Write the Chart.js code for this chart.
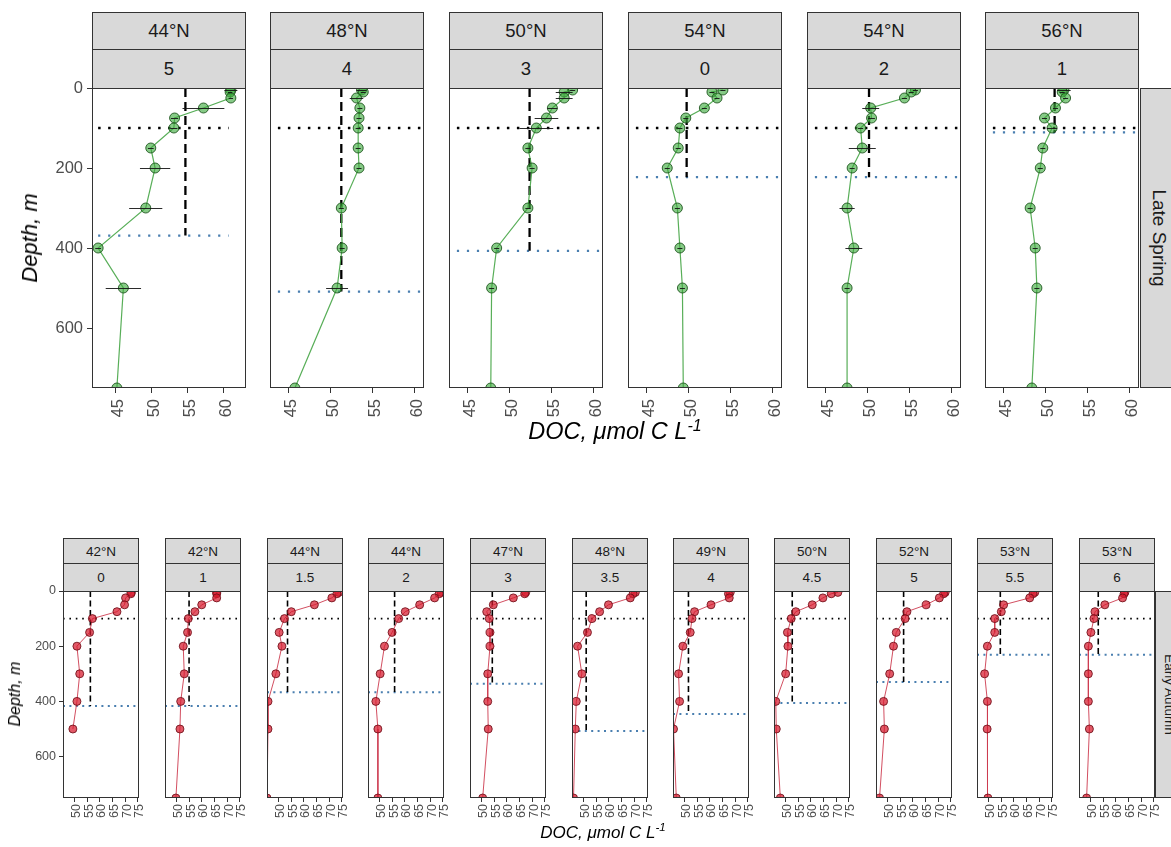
<!DOCTYPE html>
<html><head><meta charset="utf-8">
<script src="https://cdn.jsdelivr.net/npm/chart.js@4.4.1/dist/chart.umd.min.js"></script>
<style>
html,body{margin:0;padding:0;background:#fff;overflow:hidden;}
#wrap{position:relative;width:1171px;height:847px;overflow:hidden;font-family:"Liberation Sans",Arial,sans-serif;}
.panel{position:absolute;}
.panel canvas{display:block;}
.strip{position:absolute;box-sizing:border-box;background:#d9d9d9;border:1px solid #333;color:#1a1a1a;display:flex;align-items:center;justify-content:center;white-space:nowrap;}
.rot{position:absolute;white-space:nowrap;font-style:italic;color:#000;}
.vstrip span{transform:rotate(90deg);display:block;}
</style></head>
<body><div id="wrap"></div>
<script>
// ---------------- DATA ----------------
const DEPTHS = [5,10,25,50,75,100,150,200,300,400,500,750];
const EUPHOTIC_DEPTH = 100;

// Late Spring (top row)
const springLat = ['44°N','48°N','50°N','54°N','54°N','56°N'];
const springStation = ['5','4','3','0','2','1'];
const springDOC = [
  [61.0,60.9,61.0,57.2,53.2,53.1,49.9,50.5,49.2,42.6,46.1,45.2],
  [53.7,53.9,53.1,53.5,53.4,53.3,53.3,53.4,51.3,51.4,50.8,45.8],
  [57.5,56.5,56.5,55.1,54.4,53.2,52.2,52.7,52.2,48.5,47.9,47.8],
  [54.1,52.8,53.4,51.9,49.7,49.0,48.8,47.5,48.7,49.0,49.3,49.4],
  [55.7,55.2,54.4,50.4,50.5,49.2,49.4,48.2,47.6,48.4,47.6,47.6],
  [52.2,52.0,52.4,51.2,49.9,50.8,49.7,49.4,48.2,48.8,49.0,48.4]
];
const springSD = [
  [0.9,0.3,0.3,2.9,0.5,0.5,0.4,2.1,2.3,0.4,2.45,0.3],
  [0.6,0.3,0.8,0.3,0.3,0.3,0.3,0.3,0.3,0.3,1.3,0.3],
  [0.3,1.0,1.0,0.6,1.4,2.0,0.3,0.3,0.3,0.3,0.3,1.3],
  [0.3,0.3,0.3,0.3,0.3,0.3,0.3,0.3,0.3,0.3,0.3,0.3],
  [0.3,0.3,0.3,1.0,0.4,0.3,1.6,0.3,0.9,1.0,0.3,0.3],
  [0.8,0.3,0.3,0.3,0.3,0.6,0.3,0.3,0.3,0.3,0.3,0.3]
];
const springMeanML = [54.7,51.3,52.4,49.8,50.2,51.1];
const springMLD = [369,509,407,223,223,111];
const springXRange = [[41.75,63.1],[42.85,61.1],[42.85,61.1],[42.85,61.1],[42.85,61.1],[42.85,61.1]];
const springXTicks = [45,50,55,60];
const springSegX = [42.6,60.7];

// Early Autumn (bottom row)
const autumnLat = ['42°N','42°N','44°N','44°N','47°N','48°N','49°N','50°N','52°N','53°N','53°N'];
const autumnStation = ['0','1','1.5','2','3','3.5','4','4.5','5','5.5','6'];
const autumnDOC = [
  [72.4,72.2,70.1,69.7,66.7,57.0,55.9,50.9,52.0,50.9,49.3,null],
  [65.8,65.8,65.8,59.9,57.2,54.6,54.3,52.6,53.0,51.6,51.3,49.7],
  [73.7,73.0,71.0,64.1,55.0,52.3,50.2,51.3,48.9,45.8,45.8,45.4],
  [74.3,73.5,71.7,65.8,60.1,57.5,54.9,51.9,50.2,48.5,49.3,49.3],
  [67.4,67.0,62.5,54.6,52.0,53.0,53.3,53.3,52.4,52.4,52.6,50.4],
  [70.4,69.5,68.4,59.8,56.3,53.3,51.5,47.6,49.3,47.1,46.7,46.0],
  [68.0,67.3,67.6,60.4,53.9,52.9,52.2,49.3,47.6,48.0,45.6,46.7],
  [70.6,68.0,64.7,60.5,54.0,52.2,50.7,50.9,50.0,46.1,46.3,47.9],
  [72.7,72.1,70.4,65.2,57.6,56.9,53.4,52.3,50.8,48.4,48.7,46.8],
  [68.2,67.5,66.2,55.9,55.0,52.4,52.4,49.5,48.4,49.5,49.4,49.7],
  [63.5,63.2,62.6,55.6,51.7,51.3,50.1,49.1,49.1,49.1,49.5,48.4]
];
const autumnMeanML = [56.2,54.9,53.5,55.9,54.2,51.0,51.5,52.6,56.3,54.6,53.0];
const autumnMLD = [417,417,367,367,336,507,446,406,330,231,231];
const autumnXRange = [45.4,75.4];
const autumnXTicks = [50,55,60,65,70,75];

const depthTicks = [0,200,400,600];
const depthRange = [0,750];

// ---------------- RENDER ----------------
const wrap = document.getElementById('wrap');
const FONT = '"Liberation Sans", Arial, sans-serif';

const decor = {
  id:'decor',
  afterDatasetsDraw(chart, args, o){
    if(!o || !o.err) return;
    const {ctx, chartArea:a, scales:{x,y}} = chart;
    ctx.save(); ctx.beginPath(); ctx.rect(a.left,a.top,a.width,a.height); ctx.clip();
    ctx.strokeStyle='rgba(20,20,20,0.9)'; ctx.lineWidth=1;
    o.vals.forEach((v,i)=>{
      if(v==null||!o.err[i]) return;
      const py=Math.round(y.getPixelForValue(o.depths[i]))+0.5;
      ctx.beginPath();
      ctx.moveTo(x.getPixelForValue(v-o.err[i]),py);
      ctx.lineTo(x.getPixelForValue(v+o.err[i]),py);
      ctx.stroke();
    });
    ctx.restore();
  },
  afterDraw(chart){
    const {ctx, chartArea:a} = chart;
    ctx.save(); ctx.strokeStyle='#333'; ctx.lineWidth=1;
    ctx.strokeRect(Math.round(a.left)+0.5, Math.round(a.top)+0.5, Math.round(a.width)-1, Math.round(a.height)-1);
    ctx.restore();
  }
};

function addDiv(cls, css, html){
  const d=document.createElement('div'); d.className=cls; Object.assign(d.style, css);
  if(html!==undefined) d.innerHTML=html; wrap.appendChild(d); return d;
}

function makePanel(o){
  const PL=10, PR=14, PT=14;
  const lp = o.showY ? o.yAxisW : 0;
  const d = addDiv('panel',{left:(o.left-lp-PL)+'px', top:(o.top-PT)+'px',
    width:(PL+lp+o.w+PR)+'px', height:(PT+o.h+o.xAxisH)+'px'});
  const cv=document.createElement('canvas'); d.appendChild(cv);
  const pts=[];
  o.vals.forEach((v,i)=>{ if(v!=null) pts.push({x:v,y:DEPTHS[i]}); });
  const s=o.st;
  const datasets=[
    {data:[{x:o.segX[0],y:EUPHOTIC_DEPTH},{x:o.segX[1],y:EUPHOTIC_DEPTH}], showLine:true, pointRadius:0,
     borderColor:'#000', borderWidth:s.dotW, borderDash:[s.dotW, s.dotW*3], order:5},
    {data:[{x:o.segX[0],y:o.mld},{x:o.segX[1],y:o.mld}], showLine:true, pointRadius:0,
     borderColor:'#4a7fb0', borderWidth:s.blueW, borderDash:s.blueDash, order:5},
    {data:[{x:o.mean,y:0},{x:o.mean,y:o.mld}], showLine:true, pointRadius:0,
     borderColor:'#000', borderWidth:s.dashW, borderDash:s.dash, order:4},
    {data:pts, showLine:true, borderColor:s.line, borderWidth:s.lineW,
     pointRadius:s.r, pointBackgroundColor:s.fill, pointBorderColor:s.edge, pointBorderWidth:1, order:1}
  ];
  new Chart(cv,{
    type:'scatter',
    data:{datasets},
    options:{
      responsive:true, maintainAspectRatio:false, animation:false,
      events:[],
      layout:{padding:{left:PL,right:PR,top:PT,bottom:0}},
      plugins:{legend:{display:false},tooltip:{enabled:false},
        decor: o.err ? {err:o.err, vals:o.vals, depths:DEPTHS} : {}},
      scales:{
        x:{type:'linear', min:o.xr[0], max:o.xr[1],
          afterFit:(sc)=>{sc.height=o.xAxisH; sc.paddingLeft=0; sc.paddingRight=0;},
          afterBuildTicks:(sc)=>{sc.ticks=o.xt.map(v=>({value:v}));},
          border:{display:false},
          grid:{display:true, drawOnChartArea:false, drawTicks:true, tickLength:s.tick, color:'#333', lineWidth:1},
          ticks:{autoSkip:false, minRotation:90, maxRotation:90, padding:s.xpad, labelOffset:s.lo,
            color:'#4d4d4d', font:{family:FONT, size:s.tickFont}}
        },
        y:{type:'linear', reverse:true, min:depthRange[0], max:depthRange[1],
          afterFit:(sc)=>{sc.width=lp; sc.paddingTop=0; sc.paddingBottom=0;},
          afterBuildTicks:(sc)=>{sc.ticks=depthTicks.map(v=>({value:v}));},
          border:{display:false},
          grid:{display:o.showY, drawOnChartArea:false, drawTicks:true, tickLength:s.tick, color:'#333', lineWidth:1},
          ticks:{display:o.showY, padding:s.ypad, color:'#4d4d4d', font:{family:FONT, size:s.tickFont}}
        }
      }
    },
    plugins:[decor]
  });
}

// ---- top row ----
const TOPST = {dotW:2.5, blueW:2.2, blueDash:[2.2,7.8], dashW:2.3, dash:[9,5], line:'rgba(70,165,70,0.9)', lineW:1.2, r:5,
  fill:'rgba(60,170,60,0.62)', edge:'rgba(25,80,25,0.85)', tick:5, xpad:6, ypad:4, lo:3, tickFont:16.5};
const topLefts=[92,270,449,628,807,985];
springDOC.forEach((vals,i)=>{
  makePanel({left:topLefts[i], top:88, w:154, h:300, showY:i===0, yAxisW:60, xAxisH:45,
    vals, err:springSD[i], mean:springMeanML[i], mld:springMLD[i], xr:springXRange[i], xt:springXTicks,
    segX:springSegX, st:TOPST});
  addDiv('strip',{left:topLefts[i]+'px',top:'12px',width:'154px',height:'37.5px',fontSize:'18.5px'},springLat[i]);
  addDiv('strip',{left:topLefts[i]+'px',top:'49px',width:'154px',height:'40px',fontSize:'18.5px'},springStation[i]);
});
addDiv('strip vstrip',{left:'1140px',top:'88px',width:'38px',height:'300px',fontSize:'19px'},'<span>Late Spring</span>');
addDiv('rot',{left:'30px',top:'238px',fontSize:'22px',transform:'translate(-50%,-50%) rotate(-90deg)'},'Depth, m');
addDiv('rot',{left:'615px',top:'431px',fontSize:'23.5px',transform:'translate(-50%,-50%)'},'DOC, μmol C L<sup style="font-size:16px">-1</sup>');

// ---- bottom row ----
const BOTST = {dotW:1.6, blueW:2, blueDash:[2,4.4], dashW:1.6, dash:[6,3.5], line:'rgba(205,60,80,0.9)', lineW:1, r:4,
  fill:'rgba(215,25,45,0.72)', edge:'rgba(110,15,25,0.85)', tick:4, xpad:2, ypad:3, lo:2, tickFont:12.5};
const botLefts=[63,165,267,368,470,572,673,774,876,977,1079];
autumnDOC.forEach((vals,i)=>{
  makePanel({left:botLefts[i], top:591, w:76, h:207, showY:i===0, yAxisW:50, xAxisH:35,
    vals, err:null, mean:autumnMeanML[i], mld:autumnMLD[i], xr:autumnXRange, xt:autumnXTicks,
    segX:autumnXRange, st:BOTST});
  addDiv('strip',{left:botLefts[i]+'px',top:'538px',width:'76px',height:'26px',fontSize:'13.5px'},autumnLat[i]);
  addDiv('strip',{left:botLefts[i]+'px',top:'563px',width:'76px',height:'28.5px',fontSize:'13.5px'},autumnStation[i]);
});
addDiv('strip vstrip',{left:'1155px',top:'591px',width:'28px',height:'207px',fontSize:'13.5px'},'<span>Early Autumn</span>');
addDiv('rot',{left:'15px',top:'694px',fontSize:'16px',transform:'translate(-50%,-50%) rotate(-90deg)'},'Depth, m');
addDiv('rot',{left:'603px',top:'832px',fontSize:'17px',transform:'translate(-50%,-50%)'},'DOC, μmol C L<sup style="font-size:11.5px">-1</sup>');
</script></body></html>
